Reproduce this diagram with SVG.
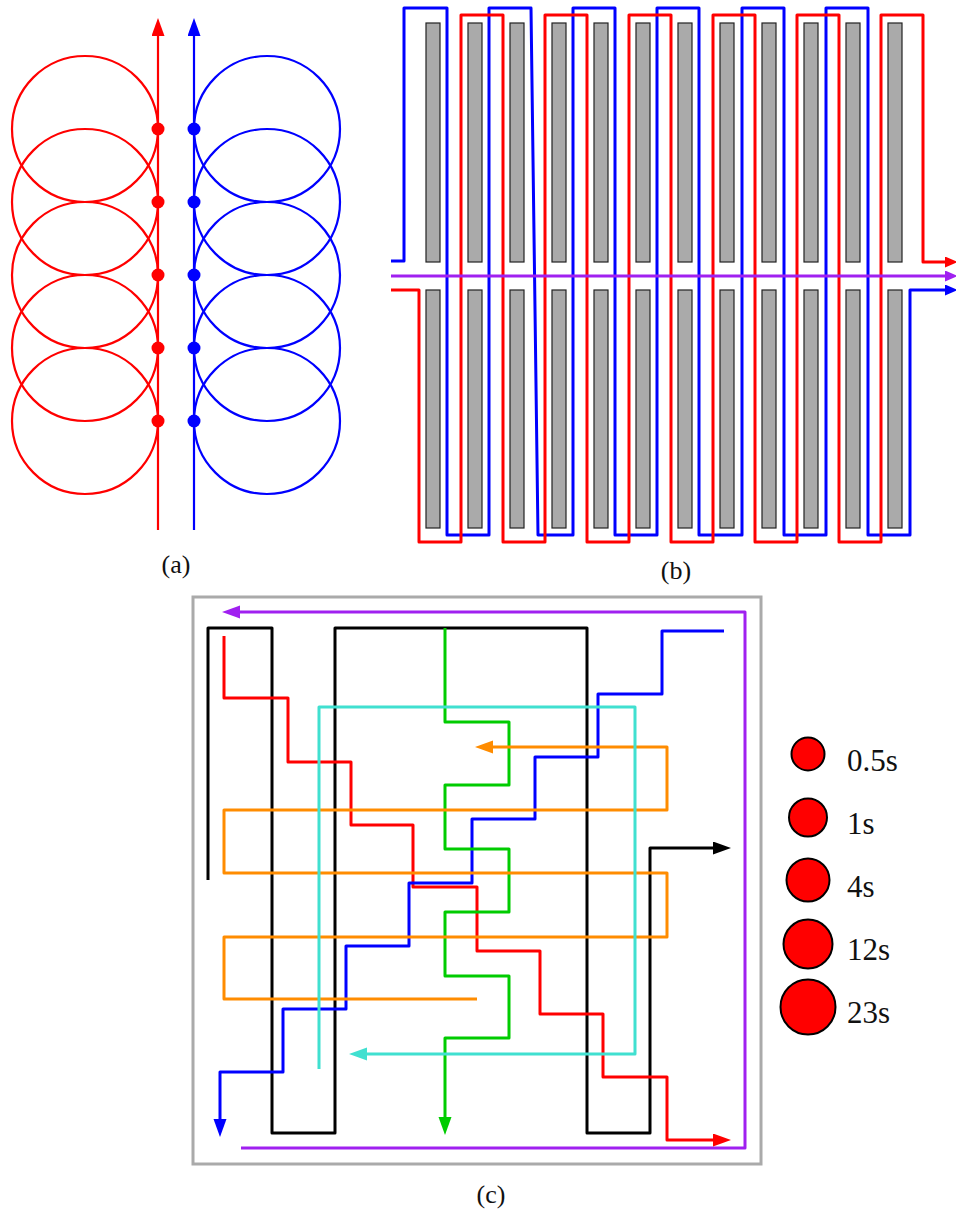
<svg xmlns="http://www.w3.org/2000/svg" width="956" height="1211" viewBox="0 0 956 1211">
<defs>
<style>
.ln{fill:none;stroke-width:3;stroke-linejoin:round;stroke-linecap:butt}
.la{fill:none;stroke-width:2.2}
.bar{fill:#aaaaaa;stroke:#222;stroke-width:1.2}
.lbl{font-family:"Liberation Serif","DejaVu Serif",serif;font-size:26px;fill:#111}
.leg{font-family:"Liberation Serif","DejaVu Serif",serif;font-size:31px;fill:#111}
</style>
<marker id="aR" markerUnits="userSpaceOnUse" markerWidth="20" markerHeight="14" refX="9" refY="6.5" orient="auto"><path d="M0,0 L18,6.5 L0,13 z" fill="#ff0000"/></marker>
<marker id="aB" markerUnits="userSpaceOnUse" markerWidth="20" markerHeight="14" refX="9" refY="6.5" orient="auto"><path d="M0,0 L18,6.5 L0,13 z" fill="#0000ff"/></marker>
<marker id="aK" markerUnits="userSpaceOnUse" markerWidth="20" markerHeight="14" refX="9" refY="6.5" orient="auto"><path d="M0,0 L18,6.5 L0,13 z" fill="#000"/></marker>
<marker id="aG" markerUnits="userSpaceOnUse" markerWidth="20" markerHeight="14" refX="9" refY="6.5" orient="auto"><path d="M0,0 L18,6.5 L0,13 z" fill="#00cc00"/></marker>
<marker id="aO" markerUnits="userSpaceOnUse" markerWidth="20" markerHeight="14" refX="9" refY="6.5" orient="auto"><path d="M0,0 L18,6.5 L0,13 z" fill="#ff8c00"/></marker>
<marker id="aC" markerUnits="userSpaceOnUse" markerWidth="20" markerHeight="14" refX="9" refY="6.5" orient="auto"><path d="M0,0 L18,6.5 L0,13 z" fill="#40e0d0"/></marker>
<marker id="aP" markerUnits="userSpaceOnUse" markerWidth="20" markerHeight="14" refX="9" refY="6.5" orient="auto"><path d="M0,0 L18,6.5 L0,13 z" fill="#a020f0"/></marker>
<marker id="bR" markerUnits="userSpaceOnUse" markerWidth="14" markerHeight="12" refX="6.5" refY="5.5" orient="auto"><path d="M0,0 L13,5.5 L0,11 z" fill="#ff0000"/></marker>
<marker id="bB" markerUnits="userSpaceOnUse" markerWidth="14" markerHeight="12" refX="6.5" refY="5.5" orient="auto"><path d="M0,0 L13,5.5 L0,11 z" fill="#0000ff"/></marker>
<marker id="bP" markerUnits="userSpaceOnUse" markerWidth="14" markerHeight="12" refX="6.5" refY="5.5" orient="auto"><path d="M0,0 L13,5.5 L0,11 z" fill="#a020f0"/></marker>
</defs>
<rect width="956" height="1211" fill="#fff"/>

<!-- Panel (a) -->
<g id="panel-a">
<g id="a-red-circles" class="la" stroke="#ff0000">
<circle cx="85" cy="129" r="73"/><circle cx="85" cy="202" r="73"/><circle cx="85" cy="275" r="73"/><circle cx="85" cy="348" r="73"/><circle cx="85" cy="421" r="73"/>
</g>
<g id="a-blue-circles" class="la" stroke="#0000ff">
<circle cx="267" cy="129" r="73"/><circle cx="267" cy="202" r="73"/><circle cx="267" cy="275" r="73"/><circle cx="267" cy="348" r="73"/><circle cx="267" cy="421" r="73"/>
</g>
<g id="a-connectors">
<path class="la" stroke="#ff0000" d="M158,530 V27" marker-end="url(#aR)"/>
<path class="la" stroke="#0000ff" d="M194,530 V27" marker-end="url(#aB)"/>
</g>
<g id="a-dots">
<g fill="#ff0000"><circle cx="158" cy="129" r="6.5"/><circle cx="158" cy="202" r="6.5"/><circle cx="158" cy="275" r="6.5"/><circle cx="158" cy="348" r="6.5"/><circle cx="158" cy="421" r="6.5"/></g>
<g fill="#0000ff"><circle cx="194" cy="129" r="6.5"/><circle cx="194" cy="202" r="6.5"/><circle cx="194" cy="275" r="6.5"/><circle cx="194" cy="348" r="6.5"/><circle cx="194" cy="421" r="6.5"/></g>
</g>
<text class="lbl" x="176" y="573" text-anchor="middle">(a)</text>
</g>

<!-- Panel (b) -->
<g id="panel-b">
<g id="b-bars-top">
<rect class="bar" x="426" y="23" width="14" height="239"/><rect class="bar" x="468" y="23" width="14" height="239"/><rect class="bar" x="510" y="23" width="14" height="239"/><rect class="bar" x="552" y="23" width="14" height="239"/><rect class="bar" x="594" y="23" width="14" height="239"/><rect class="bar" x="636" y="23" width="14" height="239"/><rect class="bar" x="678" y="23" width="14" height="239"/><rect class="bar" x="720" y="23" width="14" height="239"/><rect class="bar" x="762" y="23" width="14" height="239"/><rect class="bar" x="804" y="23" width="14" height="239"/><rect class="bar" x="846" y="23" width="14" height="239"/><rect class="bar" x="888" y="23" width="14" height="239"/>
</g>
<g id="b-bars-bottom">
<rect class="bar" x="426" y="290" width="14" height="238"/><rect class="bar" x="468" y="290" width="14" height="238"/><rect class="bar" x="510" y="290" width="14" height="238"/><rect class="bar" x="552" y="290" width="14" height="238"/><rect class="bar" x="594" y="290" width="14" height="238"/><rect class="bar" x="636" y="290" width="14" height="238"/><rect class="bar" x="678" y="290" width="14" height="238"/><rect class="bar" x="720" y="290" width="14" height="238"/><rect class="bar" x="762" y="290" width="14" height="238"/><rect class="bar" x="804" y="290" width="14" height="238"/><rect class="bar" x="846" y="290" width="14" height="238"/><rect class="bar" x="888" y="290" width="14" height="238"/>
</g>
<g id="b-connectors">
<path class="ln" stroke="#0000ff" d="M391,261 H404 V8 H447 V535 H489 V8 H531 L538,535 H573 V8 H615 V535 H657 V8 H699 V535 H742 V8 H784 V535 H826 V8 H868 V535 H910 V290 H951.5" marker-end="url(#bB)"/>
<path class="ln" stroke="#ff0000" d="M391,290 H419 V542 H461 V15 H503 V542 H545 V15 H587 V542 H629 V15 H671 V542 H713 V15 H755 V542 H797 V15 H839 V542 H881 V15 H923 V262 H951.5" marker-end="url(#bR)"/>
<path class="ln" stroke="#a020f0" d="M391,276 H951.5" marker-end="url(#bP)"/>
</g>
<text class="lbl" x="676" y="579" text-anchor="middle">(b)</text>
</g>

<!-- Panel (c) -->
<g id="panel-c">
<rect id="c-frame" x="193" y="597" width="568" height="567" fill="none" stroke="#aaaaaa" stroke-width="3"/>
<g id="c-connectors">
<path id="c-purple" class="ln" stroke="#a020f0" d="M241,1148 H745 V612 H231" marker-end="url(#aP)"/>
<path id="c-black" class="ln" stroke="#000" d="M208,880 V628 H272 V1133 H335 V628 H587 V1133 H650 V848 H722" marker-end="url(#aK)"/>
<path id="c-red" class="ln" stroke="#ff0000" d="M224,636 V698 H288 V762 H351 V825 H413 V887 H477 V951 H540 V1014 H603 V1077 H667 V1140 H722" marker-end="url(#aR)"/>
<path id="c-blue" class="ln" stroke="#0000ff" d="M724,631 H662 V694 H598 V757 H535 V819 H472 V883 H409 V946 H346 V1009 H283 V1072 H220 V1128" marker-end="url(#aB)"/>
<path id="c-green" class="ln" stroke="#00cc00" d="M445,628 V722 H509 V785 H445 V849 H509 V912 H445 V976 H509 V1038 H445 V1126" marker-end="url(#aG)"/>
<path id="c-orange" class="ln" stroke="#ff8c00" d="M477,999 H224 V937 H667 V873 H224 V810 H667 V747 H484" marker-end="url(#aO)"/>
<path id="c-cyan" class="ln" stroke="#40e0d0" d="M319,1069 V707 H635 V1054 H358" marker-end="url(#aC)"/>
</g>
<g id="c-legend" fill="#ff0000" stroke="#000" stroke-width="2">
<g id="leg-05"><circle cx="808" cy="754" r="16.5"/></g>
<g id="leg-1"><circle cx="808" cy="817.5" r="19"/></g>
<g id="leg-4"><circle cx="808" cy="880" r="21.5"/></g>
<g id="leg-12"><circle cx="808" cy="944" r="24.5"/></g>
<g id="leg-23"><circle cx="808" cy="1007" r="27.5"/></g>
</g>
<g id="c-legend-text">
<text class="leg" x="847" y="771">0.5s</text>
<text class="leg" x="847" y="834">1s</text>
<text class="leg" x="847" y="897">4s</text>
<text class="leg" x="847" y="960">12s</text>
<text class="leg" x="847" y="1023">23s</text>
</g>
<text class="lbl" x="491" y="1203" text-anchor="middle">(c)</text>
</g>
</svg>
